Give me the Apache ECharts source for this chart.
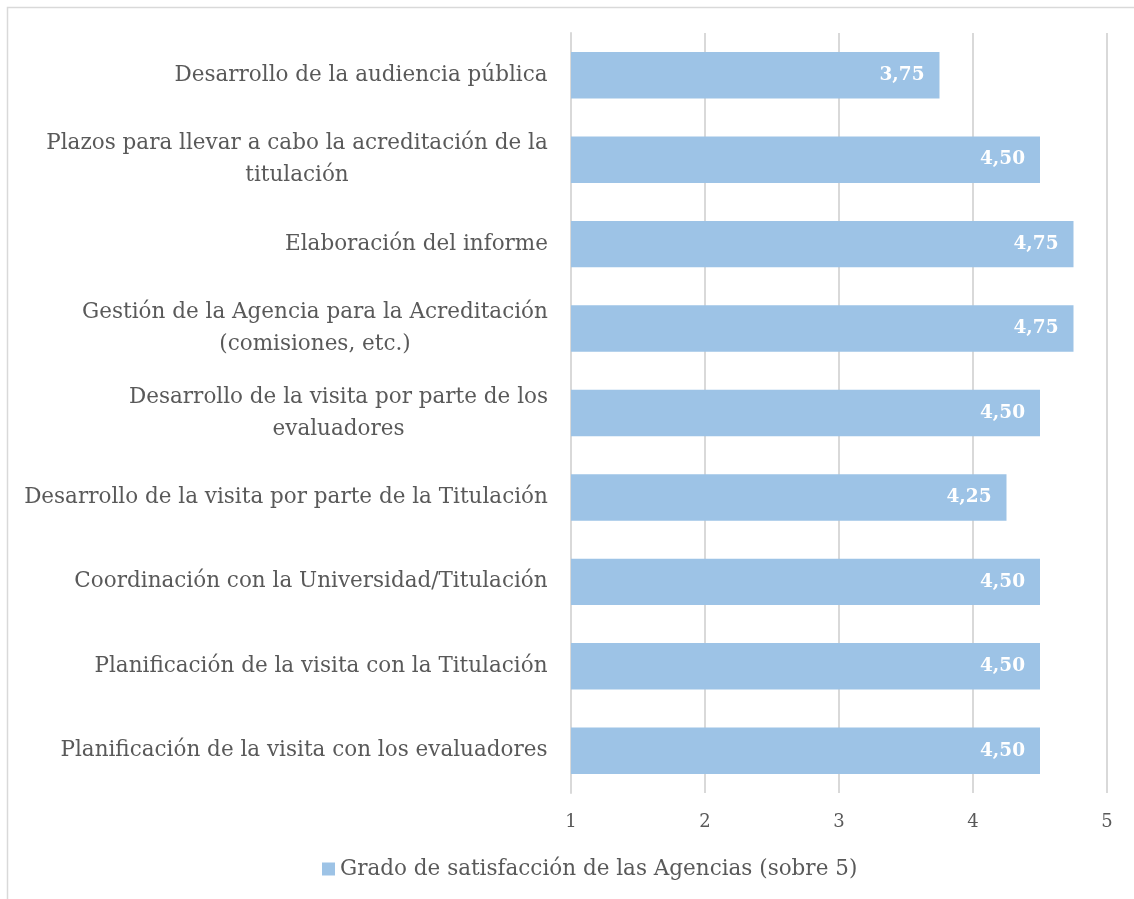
<!DOCTYPE html>
<html>
<head>
<meta charset="utf-8">
<script src="https://cdn.jsdelivr.net/npm/echarts@6/dist/echarts.min.js"></script>
<style>
  html, body { margin: 0; padding: 0; background: #fff; }
  #chart { width: 1134px; height: 899px; }
</style>
</head>
<body>
<div id="chart"></div>
<script>
// datos (de arriba a abajo)
var categorias = [
  'Desarrollo de la audiencia pública',
  'Plazos para llevar a cabo la acreditación de la\ntitulación',
  'Elaboración del informe',
  'Gestión de la Agencia para la Acreditación\n(comisiones, etc.)',
  'Desarrollo de la visita por parte de los\nevaluadores',
  'Desarrollo de la visita por parte de la Titulación',
  'Coordinación con la Universidad/Titulación',
  'Planificación de la visita con la Titulación',
  'Planificación de la visita con los evaluadores'
];
var valores = [3.75, 4.50, 4.75, 4.75, 4.50, 4.25, 4.50, 4.50, 4.50];
var ticksX = [1, 2, 3, 4, 5];
var nombreSerie = 'Grado de satisfacción de las Agencias (sobre 5)';

var fuente = '"DejaVu Serif", "Liberation Serif", serif';
var tamLabel = 21.5;

// medir lineas para centrar las etiquetas de dos lineas (como Excel)
var ctx = document.createElement('canvas').getContext('2d');
ctx.font = tamLabel + 'px ' + fuente;
var rich = {};
categorias.forEach(function(c, i) {
  var w = 0;
  c.split('\n').forEach(function(l) {
    w = Math.max(w, ctx.measureText(l).width);
  });
  rich['c' + i] = {
    width: Math.ceil(w) + 2,
    align: 'center',
    fontSize: tamLabel,
    fontFamily: fuente,
    color: '#595959',
    lineHeight: 32
  };
});

var myChart = echarts.init(document.getElementById('chart'));
var option = {
  backgroundColor: '#fff',
  textStyle: { fontFamily: fuente },
  graphic: [{
    type: 'rect',
    shape: { x: 7.5, y: 7.5, width: 1200, height: 1000 },
    style: { fill: 'none', stroke: '#d9d9d9', lineWidth: 1.5 },
    silent: true
  }],
  legend: {
    bottom: 14,
    left: 317,
    itemWidth: 13,
    itemHeight: 13,
    icon: 'rect',
    itemGap: 6,
    textStyle: { fontSize: 21.5, color: '#595959', fontFamily: fuente },
    data: [nombreSerie]
  },
  grid: {
    left: 571,
    right: 27,
    top: 33,
    bottom: 106
  },
  xAxis: {
    type: 'value',
    min: ticksX[0],
    max: ticksX[ticksX.length - 1],
    interval: 1,
    axisLine: { show: false },
    axisTick: { show: false },
    splitLine: { lineStyle: { color: '#d9d9d9', width: 2 } },
    axisLabel: { fontSize: 18, color: '#595959', margin: 20, fontFamily: fuente }
  },
  yAxis: {
    type: 'category',
    inverse: true,
    data: categorias,
    axisLine: { show: true, lineStyle: { color: '#d9d9d9', width: 2 } },
    axisTick: { show: false },
    axisLabel: {
      margin: 22,
      formatter: function(v, i) {
        return v.split('\n').map(function(l) {
          return '{c' + i + '|' + l + '}';
        }).join('\n');
      },
      rich: rich
    }
  },
  series: [{
    name: nombreSerie,
    type: 'bar',
    data: valores,
    barCategoryGap: '45%',
    itemStyle: { color: '#9dc3e6' },
    label: {
      show: true,
      position: 'insideRight',
      distance: 15,
      color: '#fff',
      fontWeight: 'bold',
      fontSize: 18.5,
      fontFamily: fuente,
      formatter: function(p) {
        return p.value.toFixed(2).replace('.', ',');
      }
    }
  }]
};
myChart.setOption(option);
</script>
</body>
</html>
